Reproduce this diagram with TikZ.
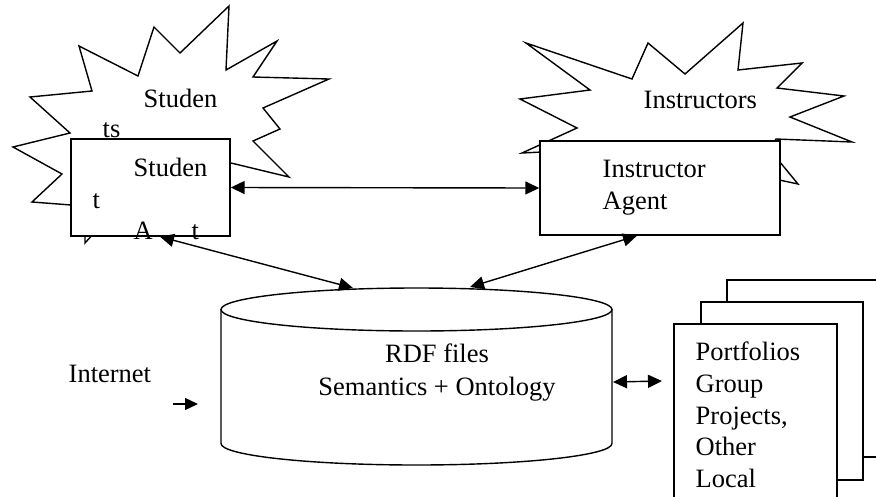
\documentclass[tikz,border=0pt]{standalone}
\usepackage{fontspec}
\setmainfont{Liberation Serif}
\usetikzlibrary{arrows.meta,calc}
\begin{document}
\begin{tikzpicture}[x=1pt,y=-1pt,line width=1.4pt,
  lbl/.style={anchor=base west,inner sep=0pt,font=\fontsize{26.5}{31.7}\selectfont},
  clbl/.style={anchor=base,inner sep=0pt,font=\fontsize{26.5}{31.7}\selectfont},
  box/.style={draw,fill=white,line width=1.4pt,inner sep=0pt},
  star/.style={draw,fill=white,line width=1.4pt,line join=miter},
  dbl/.style={{Triangle[length=14pt,width=13pt]}-{Triangle[length=14pt,width=13pt]},line width=1.4pt},
  sgl/.style={-{Triangle[length=13pt,width=12pt]},line width=1.4pt}]
\useasboundingbox (0,0) rectangle (876,496);
\clip (0,0) rectangle (876,496);
% stars
\draw[star] (231,163) -- (289,177) -- (253,141) -- (280,129) -- (263,108) -- (329,79)
  -- (253,77) -- (277,41) -- (226,70) -- (229,6) -- (180,53) -- (154,27) -- (138,76)
  -- (79,46) -- (92,91) -- (30,97) -- (70,133) -- (13,147) -- (62,174) -- (32,202)
  -- (71,205) -- (85,225) -- (85,243) -- (95,232) -- (150,200) -- cycle;
\draw[star] (542,152) -- (522,153) -- (577,128) -- (520,99) -- (590,90) -- (526,43)
  -- (632,79) -- (648,43) -- (685,74) -- (743,23) -- (738,70) -- (802,63) -- (777,88)
  -- (844,96) -- (790,117) -- (852,142) -- (776,139) -- (770,150) -- (798,184)
  -- (770,178) -- (660,190) -- cycle;
% boxes
\node[box,minimum width=159pt,minimum height=97pt] (sbox) at (150.5,187.5) {};
\node[box,minimum width=240pt,minimum height=94pt] (ibox) at (660,188) {};
% pages
\node[box,minimum width=173pt,minimum height=177pt] (page3) at (813.5,368.5) {};
\node[box,minimum width=162pt,minimum height=178pt] (page2) at (782,391) {};
\node[box,minimum width=163pt,minimum height=196pt] (page1) at (755.5,422) {};
% cylinder
\draw[fill=white] (221,309.5) -- (221,443.5)
  arc[start angle=180,end angle=0,x radius=195.5,y radius=21.5] -- (612,309.5);
\draw[fill=white] (416.5,309.5) ellipse[x radius=195.5,y radius=21.5];
\node[inner sep=0pt] (cyl) at (416.5,380) {};
\coordinate (cylTL) at (353,288);
\coordinate (cylTR) at (470,287);
\coordinate (cylR) at (613,382);
\coordinate (pgIn) at (662,381);
\coordinate (inetA) at (173,404);
\coordinate (inetB) at (198,404);
% texts
\node[lbl] (t1) at (143,107) {Studen};
\node[lbl] (t2) at (102,137) {ts};
\node[lbl] (t3) at (133,176) {Studen};
\node[lbl] (t4) at (92,208) {t};
\node[lbl] (t5) at (133,239) {A};
\node[lbl] (t6) at (191,239) {t};
\node[lbl] (t7) at (643,108) {Instructors};
\node[lbl] (t8) at (602,177) {Instructor};
\node[lbl] (t9) at (602,209) {Agent};
\node[clbl] (t10) at (437,362.5) {RDF files};
\node[clbl] (t11) at (437,395) {Semantics + Ontology};
\node[lbl] (t12) at (68,382) {Internet};
\node[lbl] (p1) at (695,360.5) {Portfolios};
\node[lbl] (p2) at (695,392.5) {Group};
\node[lbl] (p3) at (695,424) {Projects,};
\node[lbl] (p4) at (695,455.5) {Other};
\node[lbl] (p5) at (695,487.5) {Local};
% connectors
\draw[dbl] (sbox.east) -- (ibox.west);
\draw[dbl] ([xshift=9.5pt]sbox.south) -- (cylTL);
\draw[dbl] ([xshift=-23pt]ibox.south) -- (cylTR);
\draw[dbl] (cylR) -- (pgIn);
\draw[sgl] (inetA) -- (inetB);
\end{tikzpicture}
\end{document}
